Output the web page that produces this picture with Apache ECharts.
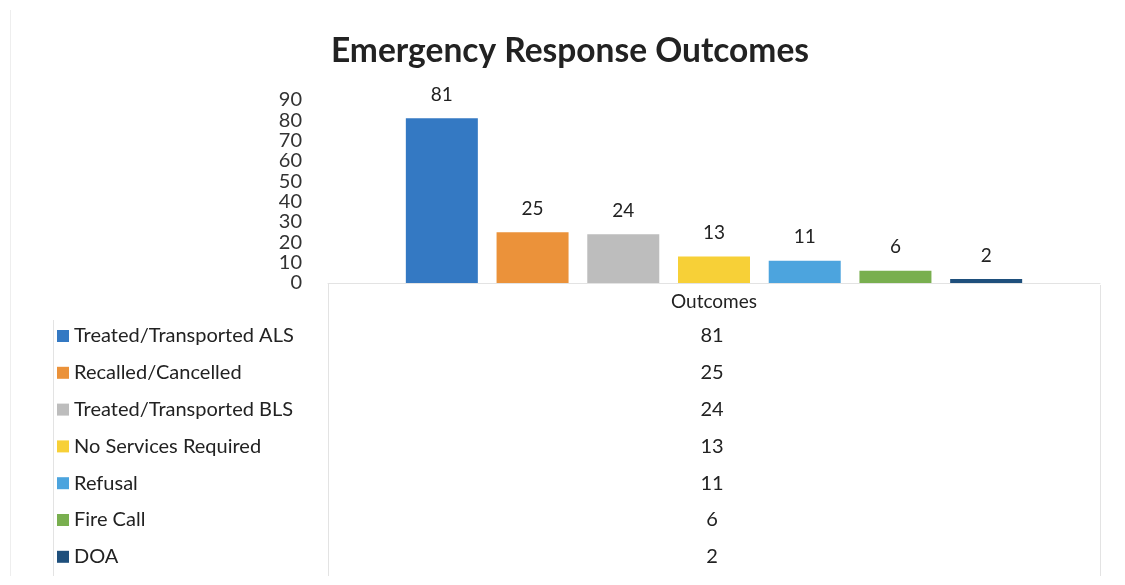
<!DOCTYPE html>
<html><head><meta charset="utf-8">
<script src="https://cdn.jsdelivr.net/npm/echarts@6/dist/echarts.min.js"></script>
<style>html,body{margin:0;padding:0;background:#fff}#c{width:1125px;height:585px}</style>
</head><body><div id="c"></div>
<script>
const categories = ['Outcomes'];
const seriesNames = ['Treated/Transported ALS','Recalled/Cancelled','Treated/Transported BLS','No Services Required','Refusal','Fire Call','DOA'];
const seriesValues = [81, 25, 24, 13, 11, 6, 2];
const seriesColors = ['#3479C3','#EB923A','#BDBDBD','#F7D037','#4CA4DE','#79AF4F','#1E4F7C'];
const yTicks = [0,10,20,30,40,50,60,70,80,90];

const FONT = 'Lato, "Open Sans", sans-serif';
const chart = echarts.init(document.getElementById('c'));
const rowTop = 336, rowStep = 36.8;
const graphics = [];
const lineStyle = {stroke:'#e3e3e3', lineWidth:1};
graphics.push({type:'line', shape:{x1:328.5,y1:283,x2:328.5,y2:576}, style:lineStyle});
graphics.push({type:'line', shape:{x1:53.5,y1:320,x2:53.5,y2:576}, style:lineStyle});
graphics.push({type:'line', shape:{x1:1100.5,y1:285,x2:1100.5,y2:576}, style:lineStyle});
graphics.push({type:'line', shape:{x1:10.5,y1:10,x2:10.5,y2:576}, style:{stroke:'#eeeeee',lineWidth:1}});
seriesValues.forEach((v,i)=>{
  graphics.push({type:'text',
    style:{x:712, y: rowTop + i*rowStep, text:String(v), font:'20px '+FONT, fill:'#222',
      textAlign:'center', textVerticalAlign:'middle'}});
});

chart.setOption({
  animation:false,
  backgroundColor:'#fff',
  title:{text:'Emergency Response Outcomes', left:565, top:29, textAlign:'center',
    textStyle:{fontFamily:FONT, fontSize:33.5, fontWeight:'bold', color:'#222'}},
  grid:{left:328, right:25, top:100, bottom:302},
  legend:{orient:'vertical', left:57, top:326, padding:0, itemWidth:12, itemHeight:12, itemGap:16.8,
    icon:'rect', selectedMode:false,
    textStyle:{fontFamily:FONT, fontSize:20, color:'#222', lineHeight:20, padding:[0,0,0,0]},
    data:seriesNames},
  xAxis:{type:'category', data:categories,
    axisLine:{lineStyle:{color:'#e3e3e3'}}, axisTick:{show:false},
    axisLabel:{fontFamily:FONT, fontSize:19, color:'#222', margin:9}},
  yAxis:{type:'value', min:0, max:90, interval:10,
    axisLine:{show:false}, axisTick:{show:false}, splitLine:{show:false},
    axisLabel:{fontFamily:FONT, fontSize:20, color:'#333', margin:26,
      formatter:v=> yTicks.includes(v) ? String(v) : ''}},
  series: seriesNames.map((n,i)=>({
    name:n, type:'bar', barWidth:72, barGap:'26%',
    itemStyle:{color:seriesColors[i]},
    label:{show:true, position:'top', distance:14, fontFamily:FONT, fontSize:19, color:'#222'},
    data:[seriesValues[i]]
  })),
  graphic:graphics
});
</script></body></html>
